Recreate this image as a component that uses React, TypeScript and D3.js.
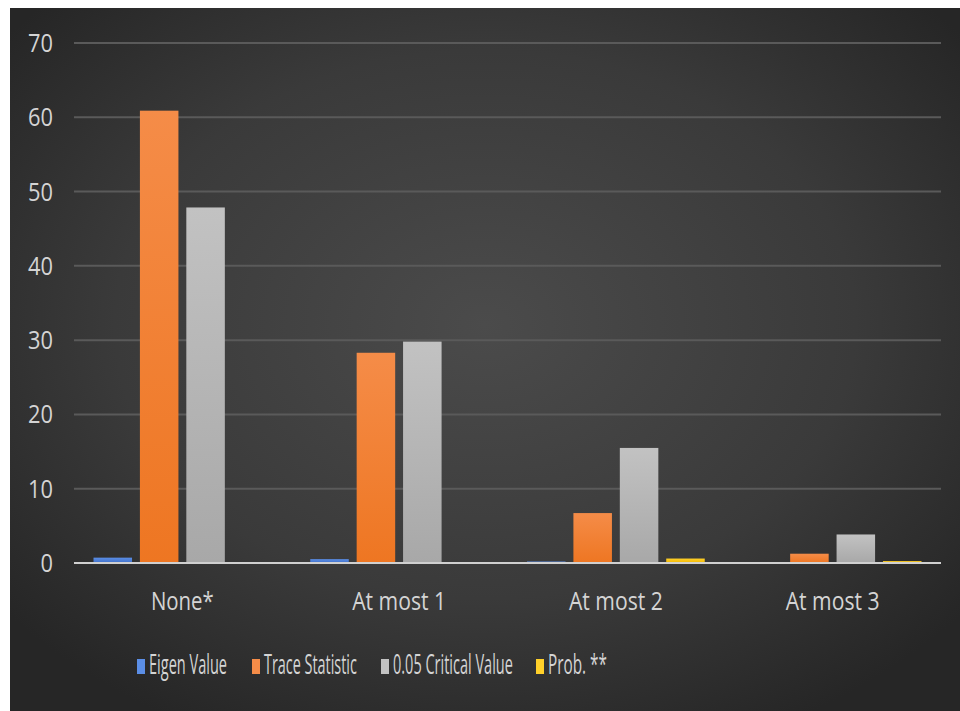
import React, { useLayoutEffect, useRef, useState } from "react";
import * as d3 from "d3";

const categories = ["None*", "At most 1", "At most 2", "At most 3"];
const seriesNames = ["Eigen Value", "Trace Statistic", "0.05 Critical Value", "Prob. **"];
const eigenValues = [0.72, 0.52, 0.2, 0.05];
const traceStatistic = [60.89, 28.3, 6.72, 1.25];
const criticalValue = [47.86, 29.8, 15.49, 3.84];
const probValues = [0.0, 0.07, 0.6, 0.26];
const yTicks = [0, 10, 20, 30, 40, 50, 60, 70];

const seriesValues = [eigenValues, traceStatistic, criticalValue, probValues];
const colorsTop = ["#5b8ee6", "#f58c48", "#c2c2c2", "#ffd02a"];
const colorsBottom = ["#3f6fc8", "#ee7622", "#a8a8a8", "#f2b800"];

const W = 960;
const H = 711;
const left = 74;
const right = 941;
const top = 43;
const bottom = 563;
const FONT = "'Open Sans', 'Noto Sans', sans-serif";

const legendTextWidth = [78, 93, 120, 59];
const legendX = [137, 252, 381, 536];
const catTextWidth = [63, 94, 94, 94];

type FitProps = {
  x: number;
  y: number;
  width: number;
  anchor: "start" | "middle" | "end";
  size: number;
  children: string;
};

function FitText({ x, y, width, anchor, size, children }: FitProps) {
  const ref = useRef<SVGTextElement>(null);
  const [sx, setSx] = useState(1);
  useLayoutEffect(() => {
    if (ref.current) {
      const w = ref.current.getComputedTextLength();
      if (w > 0) setSx(width / w);
    }
  }, [width, children]);
  return (
    <text
      ref={ref}
      transform={`translate(${x},${y}) scale(${sx},1)`}
      textAnchor={anchor}
      fill="#d4d4d4"
      fontSize={size}
      fontFamily={FONT}
    >
      {children}
    </text>
  );
}

export default function App() {
  const x0 = d3.scaleBand<string>().domain(categories).range([left, right]).paddingInner(0.18).paddingOuter(0.09);
  const x1 = d3.scaleBand<string>().domain(seriesNames).range([0, x0.bandwidth()]).paddingInner(0.17).paddingOuter(0);
  const y = d3.scaleLinear().domain([0, 70]).range([bottom, top]);

  return (
    <div style={{ position: "fixed", left: 0, top: 0, width: W, height: H, background: "#fff" }}>
      <svg width={W} height={H} style={{ display: "block" }}>
        <defs>
          <radialGradient id="bg" cx="50%" cy="45%" r="65%">
            <stop offset="0%" stopColor="#4b4b4b" />
            <stop offset="60%" stopColor="#3a3a3a" />
            <stop offset="100%" stopColor="#262626" />
          </radialGradient>
          {seriesNames.map((s, i) => (
            <linearGradient key={s} id={`g${i}`} x1="0" y1="0" x2="0" y2="1">
              <stop offset="0%" stopColor={colorsTop[i]} />
              <stop offset="100%" stopColor={colorsBottom[i]} />
            </linearGradient>
          ))}
        </defs>
        <rect x={10} y={8} width={W - 10} height={H - 8} fill="url(#bg)" />
        {yTicks.map((t) => (
          <g key={t}>
            {t !== 0 && (
              <line x1={left} x2={right} y1={y(t)} y2={y(t)} stroke="#5a5a5a" strokeWidth={2} />
            )}
            <FitText x={53} y={y(t) + 9} width={String(t).length * 12.5} anchor="end" size={26}>
              {String(t)}
            </FitText>
          </g>
        ))}
        {categories.map((c, ci) => (
          <g key={c} transform={`translate(${x0(c)},0)`}>
            {seriesNames.map((s, si) => {
              const v = seriesValues[si][ci];
              const yy = y(v);
              return (
                <rect
                  key={s}
                  x={x1(s)}
                  y={yy}
                  width={x1.bandwidth()}
                  height={Math.max(0, bottom - yy)}
                  fill={`url(#g${si})`}
                />
              );
            })}
          </g>
        ))}
        <line x1={left} x2={right} y1={bottom} y2={bottom} stroke="#d0d0d0" strokeWidth={2} />
        {categories.map((c, ci) => (
          <FitText
            key={c}
            x={(x0(c) as number) + x0.bandwidth() / 2}
            y={610}
            width={catTextWidth[ci]}
            anchor="middle"
            size={25}
          >
            {c}
          </FitText>
        ))}
        {seriesNames.map((s, i) => (
          <g key={s}>
            <rect x={legendX[i]} y={659} width={8} height={15} fill={colorsTop[i]} />
            <FitText x={legendX[i] + 12} y={674} width={legendTextWidth[i]} anchor="start" size={27}>
              {s}
            </FitText>
          </g>
        ))}
      </svg>
    </div>
  );
}
